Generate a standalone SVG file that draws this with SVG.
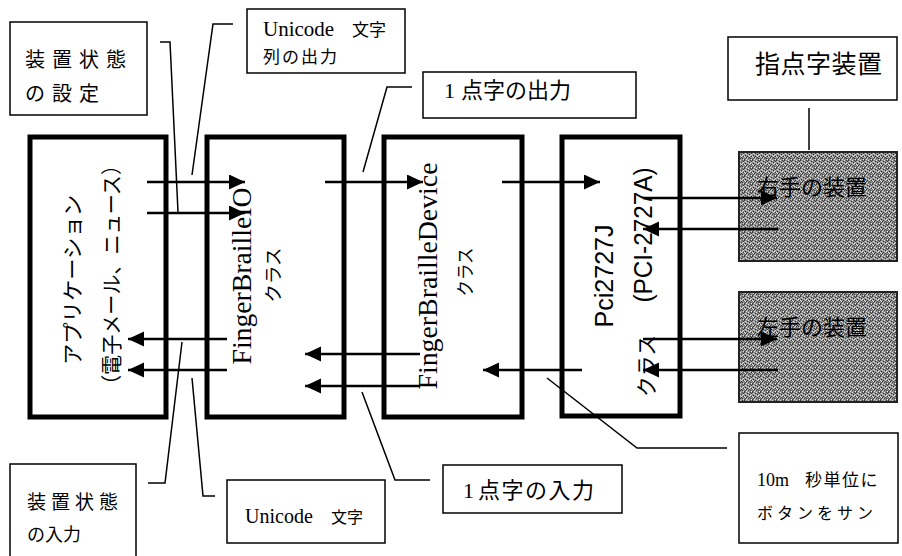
<svg xmlns="http://www.w3.org/2000/svg" width="902" height="556" viewBox="0 0 902 556">
<style>
.cls{fill:#fff;stroke:#000;stroke-width:5}
.lbl{fill:#fff;stroke:#000;stroke-width:1.5}
.dev{fill:url(#noise);stroke:#222;stroke-width:2}
.jp{font-family:"Noto Sans CJK JP","Noto Sans",sans-serif;fill:#000}
.ser{font-family:"Liberation Serif","Noto Sans CJK JP",serif;fill:#000}
.san{font-family:"Liberation Sans","Noto Sans CJK JP",sans-serif;fill:#000}
.arr{fill:none;stroke:#000;stroke-width:2.5;marker-end:url(#ah)}
.lead{fill:none;stroke:#000;stroke-width:1.5}
</style>
<defs>
<marker id="ah" markerUnits="userSpaceOnUse" markerWidth="17" markerHeight="16" refX="16" refY="7.5" orient="auto">
<path d="M0,0 L16,7.5 L0,15 z" fill="#000"/>
</marker>
<pattern id="noise" patternUnits="userSpaceOnUse" width="8" height="8">
<rect width="8" height="8" fill="#8e8e8e"/>
<g fill="#3a3a3a">
<rect x="0" y="0" width="1" height="1"/><rect x="3" y="1" width="1" height="1"/><rect x="6" y="0" width="1" height="1"/><rect x="1" y="3" width="1" height="1"/><rect x="5" y="2" width="1" height="1"/><rect x="2" y="5" width="1" height="1"/><rect x="7" y="4" width="1" height="1"/><rect x="4" y="6" width="1" height="1"/><rect x="0" y="7" width="1" height="1"/><rect x="6" y="6" width="1" height="1"/><rect x="3" y="4" width="1" height="1"/><rect x="7" y="1" width="1" height="1"/><rect x="1" y="6" width="1" height="1"/><rect x="5" y="5" width="1" height="1"/>
</g>
<g fill="#d8d8d8">
<rect x="1" y="1" width="1" height="1"/><rect x="4" y="0" width="1" height="1"/><rect x="7" y="2" width="1" height="1"/><rect x="2" y="2" width="1" height="1"/><rect x="0" y="4" width="1" height="1"/><rect x="5" y="4" width="1" height="1"/><rect x="3" y="6" width="1" height="1"/><rect x="6" y="3" width="1" height="1"/><rect x="2" y="7" width="1" height="1"/><rect x="7" y="7" width="1" height="1"/><rect x="4" y="3" width="1" height="1"/><rect x="1" y="5" width="1" height="1"/>
</g>
</pattern>
</defs>
<rect width="902" height="556" fill="#fff"/>

<g id="app">
<rect class="cls" x="30" y="137" width="136" height="280"/>
<text class="jp" font-size="21" text-anchor="middle" textLength="170" lengthAdjust="spacingAndGlyphs" transform="translate(80,280) rotate(-90)">アプリケーション</text>
<text class="jp" font-size="21" text-anchor="middle" textLength="240" lengthAdjust="spacingAndGlyphs" transform="translate(119,275) rotate(-90)">（電子メール、ニュース）</text>
</g>

<g id="fingerBrailleIO">
<rect class="cls" x="207" y="137" width="137" height="280"/>
<text class="ser" font-size="28" text-anchor="middle" textLength="177" lengthAdjust="spacingAndGlyphs" transform="translate(251,276) rotate(-90)">FingerBrailleIO</text>
<text class="jp" font-size="18" text-anchor="middle" textLength="55" lengthAdjust="spacingAndGlyphs" transform="translate(280,275) rotate(-90)">クラス</text>
</g>

<g id="fingerBrailleDevice">
<rect class="cls" x="384" y="137" width="138" height="280"/>
<text class="ser" font-size="28" text-anchor="middle" textLength="227" lengthAdjust="spacingAndGlyphs" transform="translate(437,276) rotate(-90)">FingerBrailleDevice</text>
<text class="jp" font-size="18" text-anchor="middle" textLength="49" lengthAdjust="spacingAndGlyphs" transform="translate(472,272) rotate(-90)">クラス</text>
</g>

<g id="pci2727J">
<rect class="cls" x="562" y="137" width="118" height="279"/>
<text class="san" font-size="26" text-anchor="middle" textLength="103" lengthAdjust="spacingAndGlyphs" transform="translate(613,276) rotate(-90)">Pci2727J</text>
<text class="jp" font-size="21" text-anchor="middle" textLength="62" lengthAdjust="spacingAndGlyphs" transform="translate(654,366) rotate(-90)">クラス</text>
<text class="san" font-size="26" text-anchor="middle" textLength="135" lengthAdjust="spacingAndGlyphs" transform="translate(652,235) rotate(-90)">(PCI-2727A)</text>
</g>

<g id="rightDevice">
<rect class="dev" x="739" y="152" width="158" height="109"/>
<text class="jp" font-size="22" x="757" y="195" fill="#111">右手の装置</text>
</g>

<g id="leftDevice">
<rect class="dev" x="739" y="292" width="158" height="110"/>
<text class="jp" font-size="22" x="757" y="335" fill="#111">左手の装置</text>
</g>

<g id="label-fingerBrailleDevice-hw">
<rect class="lbl" x="728" y="37" width="169" height="63"/>
<text class="jp" font-size="25" x="755" y="73" letter-spacing="0.5">指点字装置</text>
</g>

<g id="label-setState">
<rect class="lbl" x="10" y="22" width="137" height="93"/>
<text class="jp" font-size="20" x="25" y="67" letter-spacing="7">装置状態</text>
<text class="jp" font-size="20" x="25" y="101" letter-spacing="7">の設定</text>
</g>

<g id="label-unicodeOut">
<rect class="lbl" x="247" y="9" width="158" height="64"/>
<text class="ser" font-size="21" x="263" y="36">Unicode <tspan x="352" font-size="17">文字</tspan></text>
<text class="jp" font-size="17" x="263" y="63" letter-spacing="2">列の出力</text>
</g>

<g id="label-brailleOut">
<rect class="lbl" x="423" y="72" width="213" height="46"/>
<text class="ser" font-size="22" x="444" y="98">1<tspan class="jp" x="461">点字の出力</tspan></text>
</g>

<g id="label-stateIn">
<rect class="lbl" x="10" y="464" width="126" height="100"/>
<text class="jp" font-size="19" x="27" y="509" letter-spacing="5">装置状態</text>
<text class="jp" font-size="18" x="27" y="541">の入力</text>
</g>

<g id="label-unicodeIn">
<rect class="lbl" x="227" y="480" width="158" height="63"/>
<text class="ser" font-size="20" x="245" y="523">Unicode <tspan class="jp" x="331" font-size="16">文字</tspan></text>
</g>

<g id="label-brailleIn">
<rect class="lbl" x="443" y="465" width="179" height="48"/>
<text class="ser" font-size="22" x="463" y="498">1<tspan class="jp" x="478" letter-spacing="1.5">点字の入力</tspan></text>
</g>

<g id="label-scan">
<rect class="lbl" x="739" y="433" width="159" height="110"/>
<text class="ser" font-size="18" x="757" y="486">10m <tspan class="jp" x="805" font-size="17" letter-spacing="1.5">秒単位に</tspan></text>
<text class="jp" font-size="16" x="757" y="519" letter-spacing="4">ボタンをサン</text>
</g>

<g id="connectors">
<line class="arr" x1="147" y1="182" x2="245" y2="182"/>
<line class="arr" x1="147" y1="213" x2="245" y2="213"/>
<line class="arr" x1="325" y1="182" x2="423" y2="182"/>
<line class="arr" x1="502" y1="182" x2="600" y2="182"/>
<line class="arr" x1="227" y1="339" x2="128" y2="339"/>
<line class="arr" x1="227" y1="370" x2="128" y2="370"/>
<line class="arr" x1="420" y1="354" x2="305" y2="354"/>
<line class="arr" x1="420" y1="386" x2="305" y2="386"/>
<line class="arr" x1="582" y1="370" x2="483" y2="370"/>
<line class="arr" x1="643" y1="198" x2="777" y2="198"/>
<line class="arr" x1="778" y1="229" x2="643" y2="229"/>
<line class="arr" x1="643" y1="339" x2="777" y2="339"/>
<line class="arr" x1="778" y1="370" x2="643" y2="370"/>
<polyline class="lead" points="160,42 170,42 178,212"/>
<polyline class="lead" points="233,24 213,24 192,175"/>
<polyline class="lead" points="412,87 387,87 363,172"/>
<line class="lead" x1="809" y1="108" x2="809" y2="150"/>
<polyline class="lead" points="148,483 165,483 182,342"/>
<polyline class="lead" points="215,496 203,496 192,378"/>
<polyline class="lead" points="430,480 395,480 362,392"/>
<polyline class="lead" points="547,378 637,448 727,448"/>
</g>
</svg>
